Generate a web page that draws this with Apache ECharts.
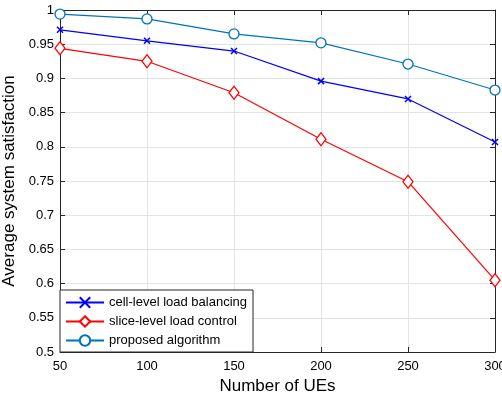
<!DOCTYPE html>
<html>
<head>
<meta charset="utf-8">
<script src="https://cdn.jsdelivr.net/npm/echarts@6/dist/echarts.min.js"></script>
<style>
  html, body { margin: 0; padding: 0; background: #fff; }
  #chart { width: 502px; height: 398px; }
</style>
</head>
<body>
<div id="chart"></div>
<script>
// data
var ues = [50, 100, 150, 200, 250, 300];
var cellLevel = [0.971, 0.955, 0.940, 0.896, 0.870, 0.807];
var sliceLevel = [0.944, 0.925, 0.879, 0.811, 0.749, 0.605];
var proposed = [0.994, 0.987, 0.965, 0.952, 0.921, 0.883];
var seriesNames = ['cell-level load balancing', 'slice-level load control', 'proposed algorithm'];

function pairs(xs, ys) {
  return xs.map(function (x, i) { return [x, ys[i]]; });
}

var font = 'Liberation Sans, Arial, sans-serif';
var axisCol = '#262626';
var crossPath = 'path://M0,0L10,10M10,0L0,10';

var myChart = echarts.init(document.getElementById('chart'));

var baseAxis = {
  axisLine: { show: true, onZero: false, lineStyle: { color: axisCol, width: 1 } },
  axisTick: { show: true, inside: true, length: 5, lineStyle: { color: axisCol } }
};

var option = {
  animation: false,
  backgroundColor: '#fff',
  grid: { left: 60, right: 7, top: 10, bottom: 46, outerBoundsMode: 'none' },
  legend: {
    orient: 'vertical',
    left: 60,
    bottom: 46,
    padding: [6, 6, 5, 5],
    itemGap: 6,
    itemWidth: 38,
    itemHeight: 13,
    backgroundColor: '#fff',
    borderColor: axisCol,
    borderWidth: 1,
    borderRadius: 0,
    textStyle: { fontFamily: font, fontSize: 13, color: '#000' },
    data: seriesNames
  },
  xAxis: [
    Object.assign({}, baseAxis, {
      type: 'value', min: 50, max: 300, interval: 50,
      name: 'Number of UEs', nameLocation: 'middle', nameGap: 25,
      nameTextStyle: { fontFamily: font, fontSize: 17, color: '#000' },
      axisLabel: { fontFamily: font, fontSize: 13, color: '#000', margin: 8 },
      splitLine: { show: true, lineStyle: { color: '#e3e3e3' } }
    }),
    Object.assign({}, baseAxis, {
      type: 'value', min: 50, max: 300, interval: 50, position: 'top',
      axisLabel: { show: false }, splitLine: { show: false }
    })
  ],
  yAxis: [
    Object.assign({}, baseAxis, {
      type: 'value', min: 0.5, max: 1, interval: 0.05,
      name: 'Average system satisfaction', nameLocation: 'middle', nameGap: 36,
      nameTextStyle: { fontFamily: font, fontSize: 17, color: '#000' },
      axisLabel: {
        fontFamily: font, fontSize: 13, color: '#000', margin: 6,
        formatter: function (v) { return String(parseFloat(v.toFixed(2))); }
      },
      splitLine: { show: true, lineStyle: { color: '#e3e3e3' } }
    }),
    Object.assign({}, baseAxis, {
      type: 'value', min: 0.5, max: 1, interval: 0.05, position: 'right',
      axisLabel: { show: false }, splitLine: { show: false }
    })
  ],
  series: [
    {
      name: seriesNames[0], type: 'line', data: pairs(ues, cellLevel),
      symbol: crossPath, symbolSize: 6,
      lineStyle: { color: '#0000ff', width: 1.2 },
      itemStyle: { color: '#0000ff', borderColor: '#0000ff', borderWidth: 1.5 }
    },
    {
      name: seriesNames[1], type: 'line', data: pairs(ues, sliceLevel),
      symbol: 'diamond', symbolSize: [10, 13],
      lineStyle: { color: '#ff0000', width: 1.2 },
      itemStyle: { color: '#fff', borderColor: '#ff0000', borderWidth: 1.3 }
    },
    {
      name: seriesNames[2], type: 'line', data: pairs(ues, proposed),
      symbol: 'circle', symbolSize: 10,
      lineStyle: { color: '#0072bd', width: 1.2 },
      itemStyle: { color: '#fff', borderColor: '#0072bd', borderWidth: 1.3 }
    }
  ]
};

myChart.setOption(option);
</script>
</body>
</html>
